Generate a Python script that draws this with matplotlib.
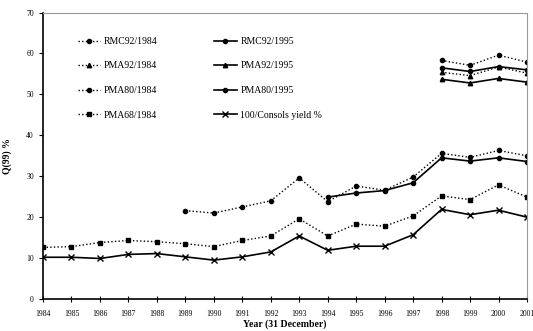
import numpy as np
import matplotlib
matplotlib.use('Agg')
import matplotlib.pyplot as plt

# Years on the x axis
years = list(range(1984, 2002))

# Q(99) % values (None = no point)
rmc92_1984 = [None] * 14 + [58.3, 57.1, 59.6, 57.9]
pma92_1984 = [None] * 14 + [55.4, 54.6, 56.7, 55.2]
pma80_1984 = [None] * 5 + [21.6, 21.0, 22.5, 24.0, 29.6, 23.8, 27.6, 26.6, 29.8, 35.6, 34.6, 36.3, 35.0]
pma68_1984 = [12.6, 12.8, 13.8, 14.3, 14.0, 13.5, 12.8, 14.3, 15.4, 19.6, 15.4, 18.3, 17.8, 20.3, 25.2, 24.3, 27.9, 24.9]
rmc92_1995 = [None] * 14 + [56.5, 55.6, 56.8, 56.0]
pma92_1995 = [None] * 14 + [53.7, 52.8, 53.9, 53.0]
pma80_1995 = [None] * 10 + [24.9, 25.9, 26.5, 28.4, 34.5, 33.7, 34.5, 33.6]
consols = [10.2, 10.2, 9.9, 10.9, 11.1, 10.3, 9.5, 10.3, 11.5, 15.4, 11.9, 12.9, 12.9, 15.7, 21.9, 20.6, 21.7, 20.0]

plt.rcParams['font.family'] = ['Liberation Serif', 'DejaVu Serif']

def to_arr(vals):
    return np.array([np.nan if v is None else v for v in vals], dtype=float)

fig = plt.figure(figsize=(5.33, 3.31), dpi=100)
ax = fig.add_axes([0.0807, 0.0967, 0.9080, 0.8653])

dot = (0, (1, 1.6))
h1, = ax.plot(years, to_arr(rmc92_1984), linestyle=dot, color='black', lw=1, marker='o', ms=3.0, label='RMC92/1984')
h2, = ax.plot(years, to_arr(pma92_1984), linestyle=dot, color='black', lw=1, marker='^', ms=3.2, label='PMA92/1984')
h3, = ax.plot(years, to_arr(pma80_1984), linestyle=dot, color='black', lw=1, marker='o', ms=3.0, label='PMA80/1984')
h4, = ax.plot(years, to_arr(pma68_1984), linestyle=dot, color='black', lw=1, marker='s', ms=2.8, label='PMA68/1984')
h5, = ax.plot(years, to_arr(rmc92_1995), linestyle='-', color='black', lw=1.2, marker='o', ms=3.0, label='RMC92/1995')
h6, = ax.plot(years, to_arr(pma92_1995), linestyle='-', color='black', lw=1.2, marker='^', ms=3.2, label='PMA92/1995')
h7, = ax.plot(years, to_arr(pma80_1995), linestyle='-', color='black', lw=1.2, marker='o', ms=3.0, label='PMA80/1995')
h8, = ax.plot(years, to_arr(consols), linestyle='-', color='black', lw=1.2, marker='x', ms=5, mew=1, label='100/Consols yield %')

ax.set_xlim(1984, 2001)
ax.set_ylim(0, 70)
ax.set_xticks(years)
ax.set_xticklabels([str(y) for y in years], fontsize=5.5)
ax.set_yticks(range(0, 71, 10))
ax.tick_params(axis='y', labelsize=5.5, direction='out', length=3, width=0.8)
ax.tick_params(axis='x', direction='inout', length=4, width=0.8, pad=6)

ax.spines['left'].set_linewidth(1.2)
ax.spines['bottom'].set_linewidth(1.2)
ax.spines['top'].set_color('#999999')
ax.spines['right'].set_color('#999999')

ax.set_ylabel('Q(99) %', fontsize=7, fontweight='bold', labelpad=10)
ax.set_xlabel('Year (31 December)', fontsize=7, fontweight='bold', labelpad=1)

# legend is filled column by column: dotted 1984 series first, then the solid ones
ax.legend([h1, h2, h3, h4, h5, h6, h7, h8],
          [h.get_label() for h in [h1, h2, h3, h4, h5, h6, h7, h8]],
          ncol=2, frameon=False, loc='upper left', bbox_to_anchor=(0.072, 0.915),
          borderpad=0, borderaxespad=0, fontsize=7, numpoints=1,
          handlelength=2.3, handletextpad=0.4, labelspacing=1.6, columnspacing=5.8)

fig.savefig('out.png', dpi=100)
